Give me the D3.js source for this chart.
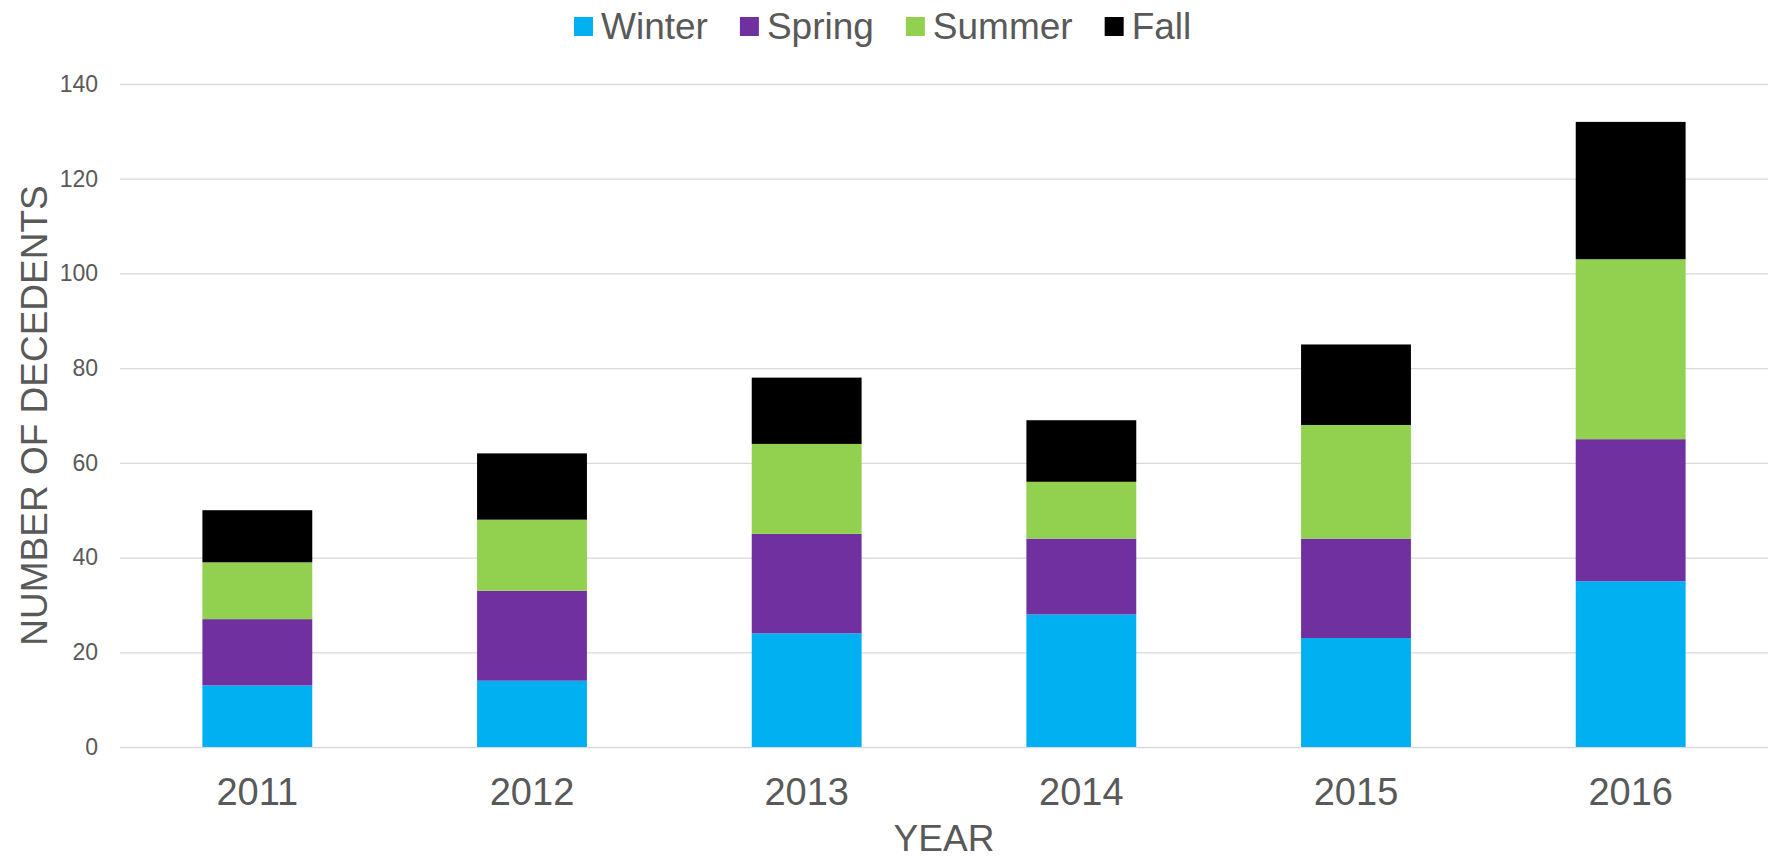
<!DOCTYPE html>
<html>
<head>
<meta charset="utf-8">
<script src="https://cdn.jsdelivr.net/npm/d3@7"></script>
<style>
  body { margin: 0; background: #fff; }
  svg { display: block; font-family: "Liberation Sans", Arial, sans-serif; }
</style>
</head>
<body>
<div id="chart"></div>
<script>
const years = ['2011', '2012', '2013', '2014', '2015', '2016'];
const seasons = ['Winter', 'Spring', 'Summer', 'Fall'];
const winter = [13, 14, 24, 28, 23, 35];
const spring = [14, 19, 21, 16, 21, 30];
const summer = [12, 15, 19, 12, 24, 38];
const fall = [11, 14, 14, 13, 17, 29];
const yTicks = [0, 20, 40, 60, 80, 100, 120, 140];
const colors = ['#00B0F0', '#7030A0', '#92D050', '#000000'];

const width = 1773;
const height = 859;
const margin = { top: 84, right: 5, bottom: 112, left: 120 };
const textColor = '#595959';

// table for the stack
const rows = years.map((y, i) => ({
  year: y, Winter: winter[i], Spring: spring[i], Summer: summer[i], Fall: fall[i]
}));
const series = d3.stack().keys(seasons)(rows);

const svg = d3.select('#chart')
  .append('svg')
  .attr('width', width)
  .attr('height', height);

const x = d3.scaleBand()
  .domain(years)
  .range([margin.left, width - margin.right])
  .paddingInner(0.6)
  .paddingOuter(0.3);

const y = d3.scaleLinear()
  .domain([0, 140])
  .range([height - margin.bottom, margin.top]);

const plotW = width - margin.right - margin.left;

// y axis with gridlines
svg.append('g')
  .attr('transform', `translate(${margin.left},0)`)
  .call(d3.axisLeft(y).tickValues(yTicks).tickSize(-plotW).tickPadding(22))
  .call(g => g.select('.domain').remove())
  .call(g => g.selectAll('line').attr('stroke', '#D9D9D9').attr('stroke-width', 1.3))
  .call(g => g.selectAll('text')
    .attr('fill', textColor)
    .attr('font-size', '23px')
    .attr('font-family', '"Liberation Sans", Arial, sans-serif'));

// bars
svg.append('g')
  .selectAll('g')
  .data(series)
  .join('g')
    .attr('fill', (d, i) => colors[i])
  .selectAll('rect')
  .data(d => d)
  .join('rect')
    .attr('x', d => x(d.data.year))
    .attr('y', d => y(d[1]))
    .attr('height', d => y(d[0]) - y(d[1]))
    .attr('width', x.bandwidth());

// x axis
svg.append('g')
  .attr('transform', `translate(0,${height - margin.bottom})`)
  .call(d3.axisBottom(x).tickSize(0).tickPadding(31))
  .call(g => g.select('.domain').remove())
  .call(g => g.selectAll('text')
    .attr('fill', textColor)
    .attr('font-size', '38px')
    .attr('font-family', '"Liberation Sans", Arial, sans-serif'));

// axis titles
svg.append('text')
  .attr('x', (margin.left + width - margin.right) / 2)
  .attr('y', 851)
  .attr('text-anchor', 'middle')
  .attr('font-size', '37px')
  .attr('fill', textColor)
  .text('YEAR');

svg.append('text')
  .attr('transform', `translate(47,${(y(0) + y(140)) / 2}) rotate(-90)`)
  .attr('text-anchor', 'middle')
  .attr('font-size', '37px')
  .attr('fill', textColor)
  .text('NUMBER OF DECEDENTS');

// legend
const legend = svg.append('g');
let lx = 574;
seasons.forEach((s, i) => {
  legend.append('rect')
    .attr('x', lx).attr('y', 17)
    .attr('width', 19).attr('height', 19)
    .attr('fill', colors[i]);
  const t = legend.append('text')
    .attr('x', lx + 27)
    .attr('y', 38.5)
    .attr('font-size', '37px')
    .attr('fill', textColor)
    .text(s);
  lx += 27 + t.node().getComputedTextLength() + 32;
});
</script>
</body>
</html>
